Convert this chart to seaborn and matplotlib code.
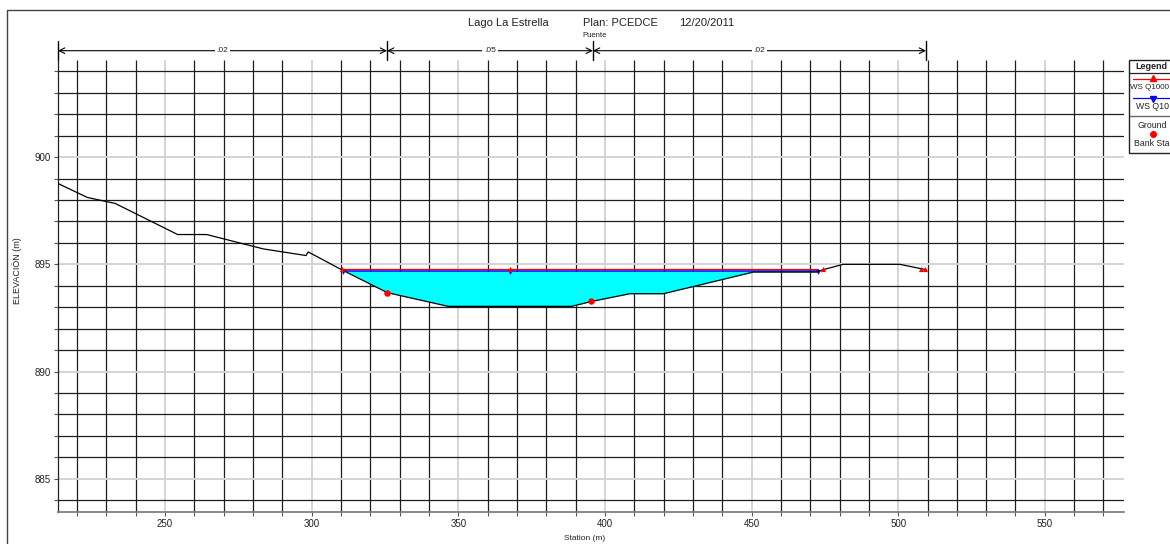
import numpy as np
import pandas as pd
import matplotlib
matplotlib.use("Agg")
import matplotlib.pyplot as plt
import matplotlib.transforms as mtransforms
from matplotlib.lines import Line2D
from matplotlib.patches import Rectangle
import seaborn as sns

# ---------------- data ----------------
ground_sta = [213.5, 223.5, 233.0, 254.3, 264.2, 283.5, 298.1, 298.8, 310.2, 325.8,
              346.6, 388.6, 395.4, 408.5, 419.9, 450.6, 472.2, 474.4, 481.2, 500.6, 509.5]
ground_elev = [898.77, 898.12, 897.84, 896.39, 896.39, 895.72, 895.41, 895.58, 894.75, 893.68,
               893.04, 893.04, 893.27, 893.63, 893.63, 894.64, 894.64, 894.75, 895.00, 895.00, 894.75]

bank_sta = [325.8, 395.4]
bank_elev = [893.68, 893.27]

ws_q1000_sta = [310.2, 472.7]
ws_q1000_elev = [894.77, 894.77]
ws_q1000_marker_sta = [310.2, 367.6, 474.2, 507.8, 509.3]
ws_q1000_marker_elev = [894.78, 894.78, 894.78, 894.78, 894.78]

ws_q10_sta = [310.2, 472.5]
ws_q10_elev = [894.69, 894.69]
ws_q10_marker_sta = [310.6, 367.6, 472.5]
ws_q10_marker_elev = [894.64, 894.64, 894.64]

manning_sta = [213.5, 325.7, 395.9, 509.5]
manning_n = [".02", ".05", ".02"]

x_tick_labels = [250, 300, 350, 400, 450, 500, 550]
y_tick_labels = [885, 890, 895, 900]

title_parts = ["Lago La Estrella", "Plan: PCEDCE", "12/20/2011"]

# ---------------- figure ----------------
sns.set_style("white")
plt.rcParams['font.family'] = ['Liberation Sans', 'DejaVu Sans']

W, H = 1170, 544
fig = plt.figure(figsize=(W / 100, H / 100), dpi=100)

def fx(px):
    return px / W

def fy(py):
    return 1 - py / H

ax = fig.add_axes([fx(58), fy(512), fx(1124) - fx(58), fy(60) - fy(512)])
xmin, xmax = 213.5, 577.0
ymin, ymax = 883.45, 904.53
ax.set_xlim(xmin, xmax)
ax.set_ylim(ymin, ymax)

# grid
xg = np.arange(220, 580, 10)
yg = np.arange(884, 905, 1)
xg_minor = [v for v in xg if v % 50 != 0]
xg_major = [v for v in xg if v % 50 == 0]
yg_minor = [v for v in yg if v % 5 != 0]
yg_major = [v for v in yg if v % 5 == 0]
ax.vlines(xg_minor, ymin, ymax, color='#1e1e1e', lw=0.9, zorder=0)
ax.vlines(xg_major, ymin, ymax, color='#d4d4d4', lw=1.4, zorder=0)
ax.hlines(yg_minor, xmin, xmax, color='#1e1e1e', lw=0.9, zorder=0)
ax.hlines(yg_major, xmin, xmax, color='#d4d4d4', lw=1.4, zorder=0)

ax.set_xticks(xg)
ax.set_xticklabels([str(v) if v in x_tick_labels else "" for v in xg])
ax.set_yticks(yg)
ax.set_yticklabels([str(v) if v in y_tick_labels else "" for v in yg])
ax.tick_params(axis='both', direction='out', length=3, width=0.8, color='#555555',
               labelsize=7, labelcolor='#222222', pad=2, bottom=True, left=True)

for s in ['top', 'right']:
    ax.spines[s].set_visible(False)
ax.spines['left'].set_color('#222222')
ax.spines['left'].set_linewidth(0.9)
ax.spines['bottom'].set_color('#777777')
ax.spines['bottom'].set_linewidth(1.2)

# water fill
g_df = pd.DataFrame({'sta': ground_sta, 'elev': ground_elev})
chan = g_df[(g_df.sta >= ws_q10_sta[0]) & (g_df.sta <= ws_q10_sta[1])]
ax.fill_between(chan.sta, chan.elev, ws_q10_elev[0], where=chan.elev <= ws_q10_elev[0],
                interpolate=True, color='#00ffff', lw=0, zorder=2)

# water surfaces
sns.lineplot(x=ws_q10_sta, y=ws_q10_elev, ax=ax, color='blue', lw=1.1, zorder=4)
sns.lineplot(x=ws_q1000_sta, y=ws_q1000_elev, ax=ax, color='red', lw=0.9, zorder=4.5)
ax.scatter(ws_q10_marker_sta, ws_q10_marker_elev, marker='v', color='blue', s=12, zorder=5, lw=0)
ax.scatter(ws_q1000_marker_sta, ws_q1000_marker_elev, marker='^', color='red', s=14, zorder=6, lw=0)

# ground
sns.lineplot(data=g_df, x='sta', y='elev', ax=ax, color='black', lw=0.9,
             estimator=None, sort=False, zorder=5)
# bank stations
sns.scatterplot(x=bank_sta, y=bank_elev, ax=ax, color='red', s=22, lw=0, zorder=7)

ax.set_xlabel("")
ax.set_ylabel("")

# Manning's n annotation
bt = mtransforms.blended_transform_factory(ax.transData, fig.transFigure)
y_arr = fy(50.7)
for i in range(len(manning_n)):
    a, b = manning_sta[i], manning_sta[i + 1]
    ax.annotate('', xy=(b, y_arr), xytext=(a, y_arr), xycoords=bt, textcoords=bt,
                arrowprops=dict(arrowstyle='<->', lw=0.8, color='black',
                                shrinkA=0, shrinkB=0, mutation_scale=10),
                annotation_clip=False)
    ax.text((a + b) / 2, y_arr, manning_n[i], transform=bt, ha='center', va='center',
            fontsize=6, color='#222222', bbox=dict(facecolor='white', edgecolor='none', pad=1.2))
for s in manning_sta:
    ax.add_line(Line2D([s, s], [fy(41), fy(60)], transform=bt, color='black', lw=1.0,
                       clip_on=False))

# titles and labels
title_x = [468, 583, 679]
for t, x in zip(title_parts, title_x):
    fig.text(fx(x), fy(22.5), t, ha='left', va='center', fontsize=8, color='#222222')
fig.text(fx(595), fy(35.5), "Puente", ha='center', va='center', fontsize=5.5, color='#222222')
fig.text(fx(17), fy(271), "ELEVACIÓN (m)", rotation=90, ha='center', va='center',
         fontsize=6.5, color='#222222')
fig.text(fx(585), fy(538), "Station (m)", ha='center', va='center', fontsize=6,
         color='#222222')

# outer border
fig.add_artist(Line2D([fx(7), fx(1170)], [fy(10), fy(10)], color='#444444', lw=1.0))
fig.add_artist(Line2D([fx(7), fx(7)], [fy(10), fy(544)], color='#444444', lw=1.0))

# legend box
fig.add_artist(Rectangle((fx(1128.5), fy(153)), fx(60), fy(60) - fy(153), facecolor='white',
                         edgecolor='#222222', lw=1.0, transform=fig.transFigure))
fig.text(fx(1151), fy(66.5), "Legend", ha='center', va='center', fontsize=6.5,
         fontweight='bold', color='#222222')
fig.add_artist(Line2D([fx(1128.5), fx(1170)], [fy(72.7), fy(72.7)], color='#222222', lw=0.9))
fig.add_artist(Line2D([fx(1133), fx(1170)], [fy(78.5), fy(78.5)], color='red', lw=0.9))
fig.add_artist(Line2D([fx(1153)], [fy(77.5)], marker='^', color='red', markersize=4, lw=0))
fig.text(fx(1149.5), fy(87.5), "WS Q1000", ha='center', va='center', fontsize=5.8, color='#222222')
fig.add_artist(Line2D([fx(1133), fx(1170)], [fy(97.5), fy(97.5)], color='blue', lw=0.9))
fig.add_artist(Line2D([fx(1153)], [fy(98.5)], marker='v', color='blue', markersize=4, lw=0))
fig.text(fx(1152), fy(106.5), "WS Q10", ha='center', va='center', fontsize=6.3, color='#222222')
fig.add_artist(Line2D([fx(1130), fx(1170)], [fy(116), fy(116)], color='#666666', lw=1.0))
fig.text(fx(1152), fy(125), "Ground", ha='center', va='center', fontsize=6.3, color='#222222')
fig.add_artist(Line2D([fx(1153)], [fy(134)], marker='o', color='red', markersize=4, lw=0))
fig.text(fx(1152), fy(143.5), "Bank Sta", ha='center', va='center', fontsize=6.3, color='#222222')

fig.savefig("out.png", dpi=100)
